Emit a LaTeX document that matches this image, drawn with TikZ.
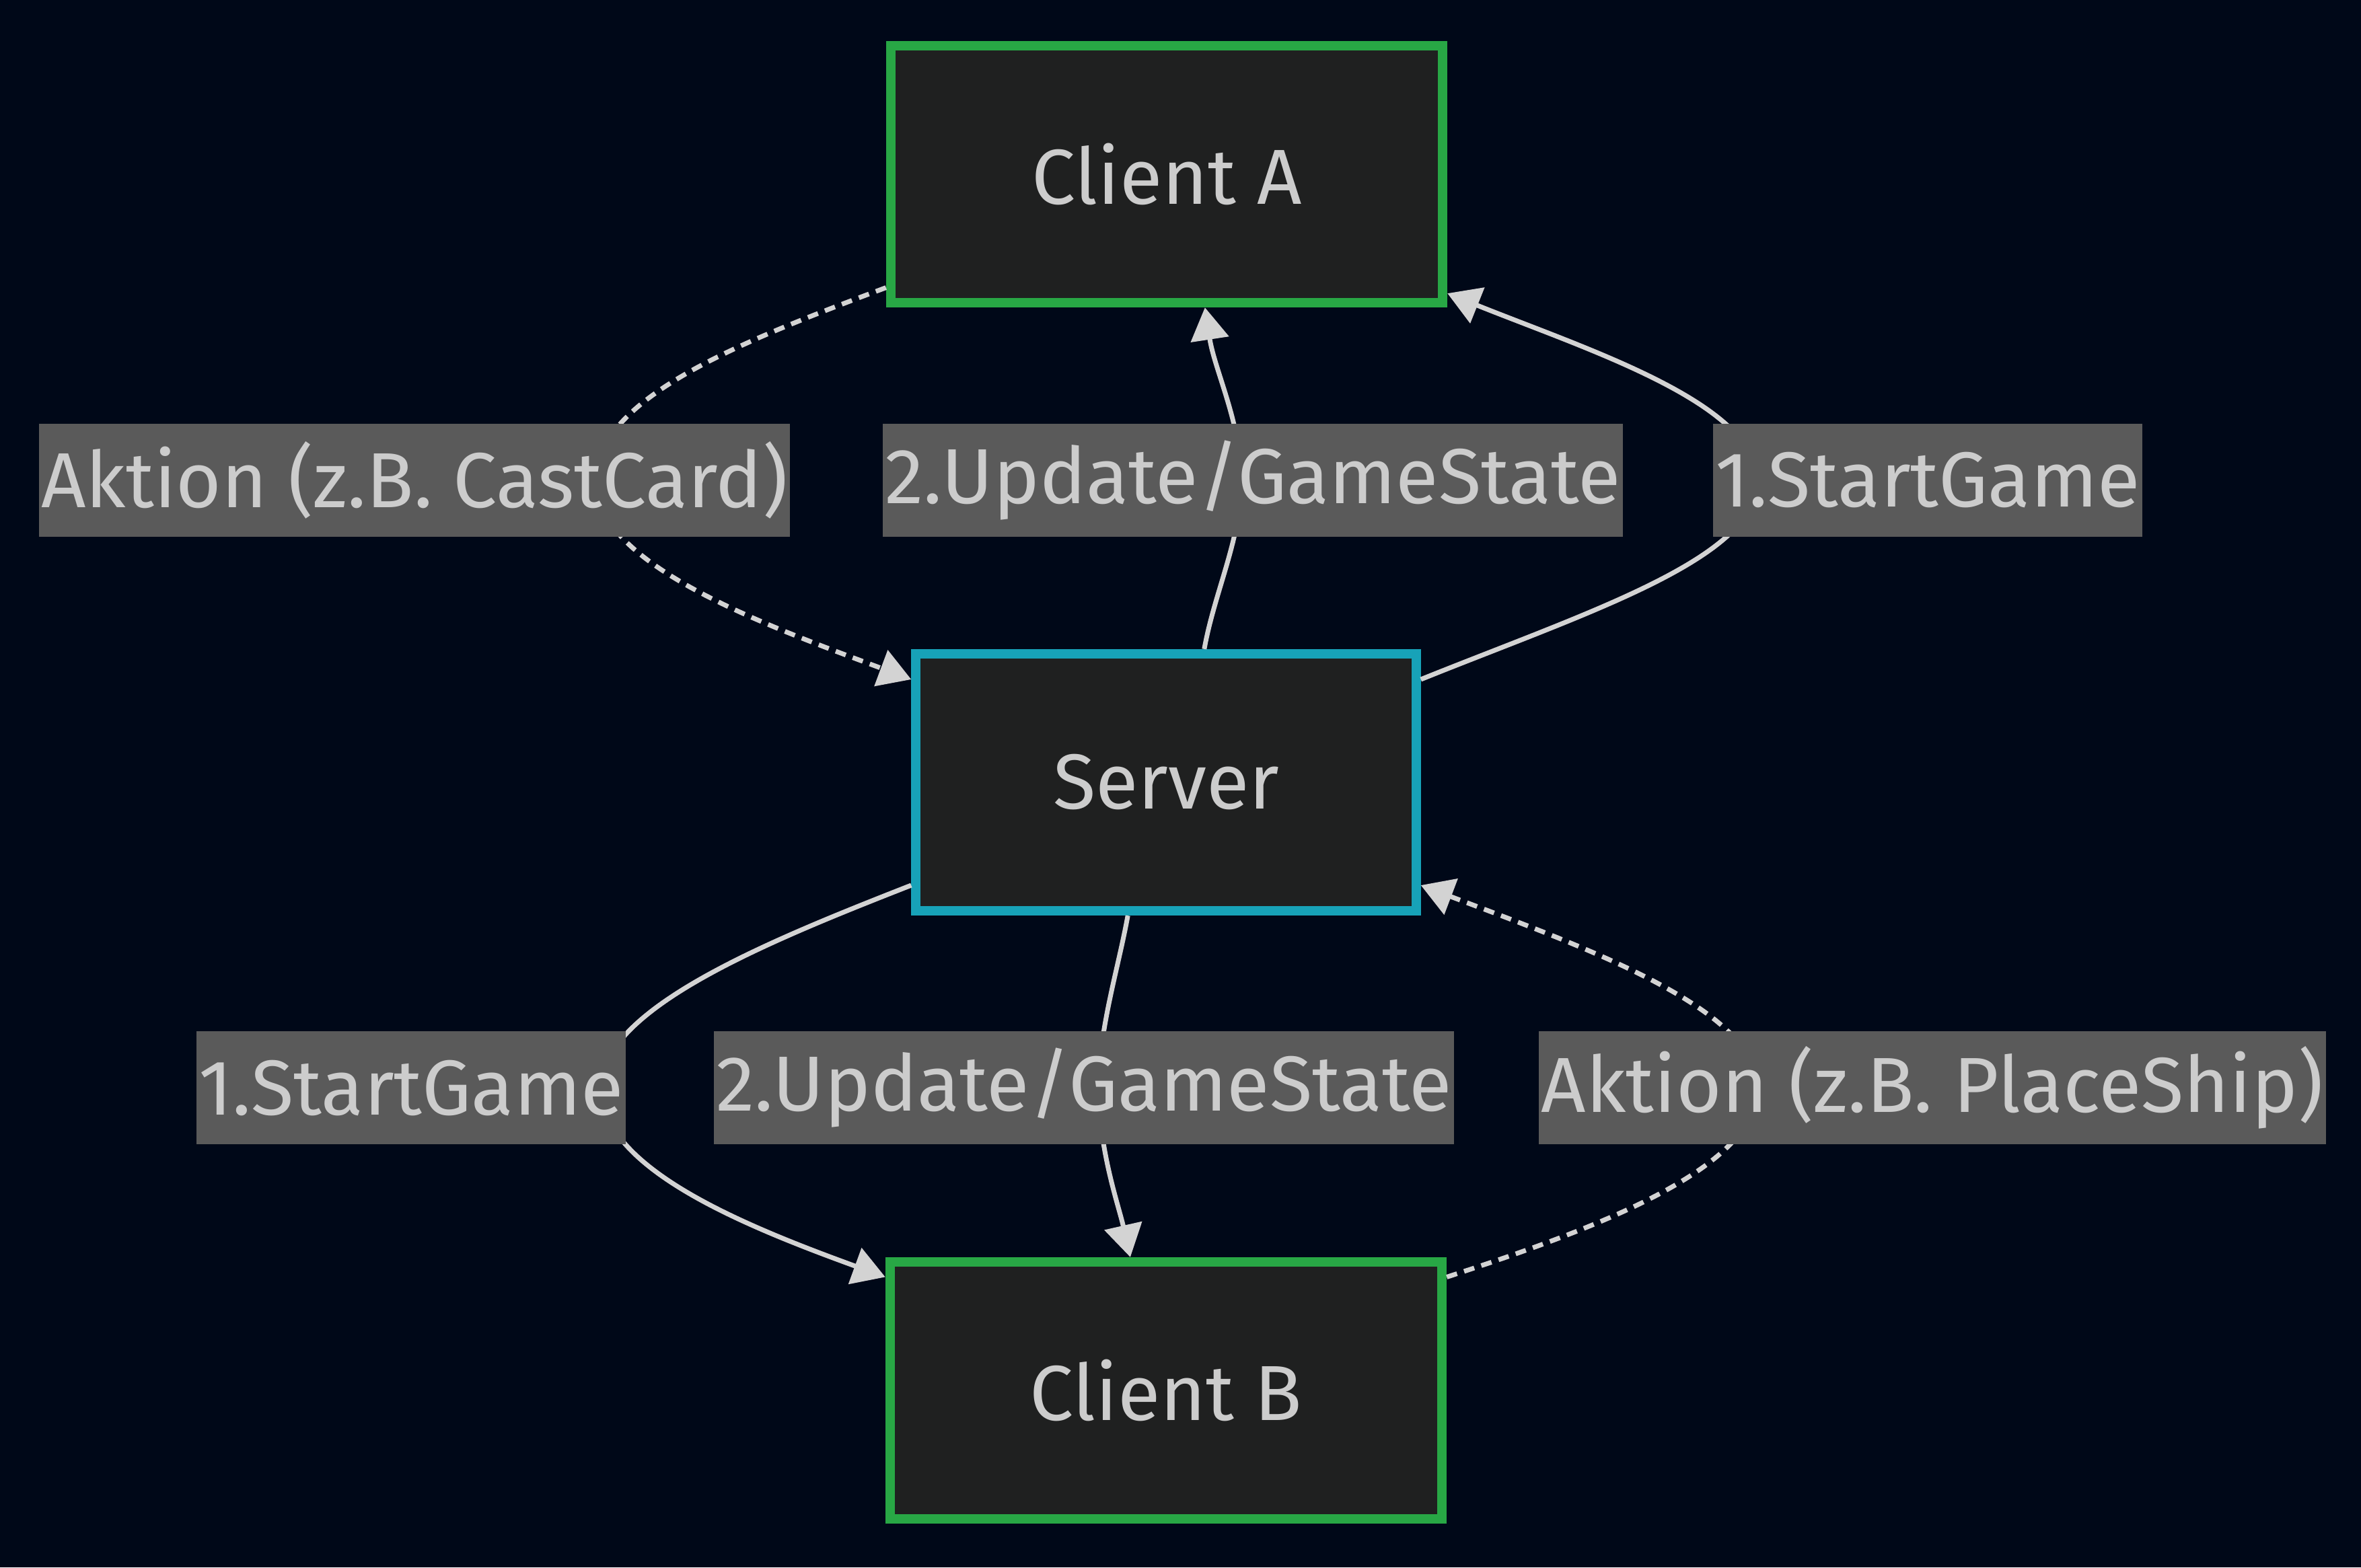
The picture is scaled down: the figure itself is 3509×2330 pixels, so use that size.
\documentclass[tikz,border=0pt]{standalone}
\usepackage{fontspec}
\setmainfont{Fira Sans}
\usetikzlibrary{arrows.meta}
\definecolor{bgnavy}{HTML}{000818}
\definecolor{boxfill}{HTML}{1F2020}
\definecolor{clientgreen}{HTML}{28A745}
\definecolor{serverteal}{HTML}{17A2B8}
\definecolor{labelgrey}{HTML}{5A5A5A}
\definecolor{labeltext}{HTML}{CCCCCC}
\definecolor{edgegrey}{HTML}{D3D3D3}
\begin{document}
\begin{tikzpicture}
[x=0.01cm,y=-0.01cm,
  boxdecorate/.style={shape=rectangle,draw,line width=0.14cm,fill=boxfill,
    text=labeltext,minimum height=3.82cm,font=\fontsize{33}{39}\selectfont},%
  labeldecorate/.style={shape=rectangle,fill=labelgrey,text=labeltext,
    inner xsep=1pt,inner ysep=0pt,minimum height=1.68cm,font=\fontsize{33}{39}\selectfont},%
  linedecorate/.style={draw=edgegrey,line width=0.07cm,
    -{Triangle[length=0.48cm,width=0.56cm]}},%
  dotdecorate/.style={linedecorate,dash pattern=on 0.16cm off 0.11cm}]
\fill[bgnavy] (0,0) rectangle (3509,2330);
\useasboundingbox (0,0) rectangle (3509,2330);
%% nodes or vertices
\foreach \nodename/\x/\y/\w/\colour/\nodetext in {
  clA/1734/259/8.2cm/clientgreen/Client A,
  srv/1733/1163/7.43cm/serverteal/Server,
  clB/1733/2067/8.2cm/clientgreen/Client B}
{
  \node (\nodename) at (\x,\y) [boxdecorate,draw=\colour,minimum width=\w] {\nodetext};
}
%% edges or lines
\draw[dotdecorate] (clA.202) .. controls (1110,505) and (885,590) .. (885,715)
  .. controls (885,840) and (1140,930) .. (srv.158);
\draw[linedecorate] (srv.74) .. controls (1805,880) and (1845,800) .. (1845,715)
  .. controls (1845,630) and (1805,550) .. (clA.286);
\draw[linedecorate] (srv.22) .. controls (2360,910) and (2612,830) .. (2612,715)
  .. controls (2612,600) and (2360,520) .. (clA.337);
\draw[linedecorate] (srv.202) .. controls (1140,1400) and (893,1500) .. (893,1617)
  .. controls (893,1735) and (1100,1820) .. (clB.158);
\draw[linedecorate] (srv.254) .. controls (1662,1440) and (1633,1530) .. (1633,1617)
  .. controls (1633,1710) and (1662,1790) .. (clB.105);
\draw[dotdecorate] (clB.22) .. controls (2360,1830) and (2612,1740) .. (2612,1617)
  .. controls (2612,1500) and (2360,1410) .. (srv.338);
%% edge labels
\foreach \labelname/\x/\y/\labeltext in {
  actA/616/714/{Aktion (z.B. CastCard)},
  updA/1862/714/{2.Update/GameState},
  startA/2865/714/{1.StartGame},
  startB/611/1617/{1.StartGame},
  updB/1611/1617/{2.Update/GameState},
  actB/2872/1617/{Aktion (z.B. PlaceShip)}}
{
  \node (\labelname) at (\x,\y) [labeldecorate] {\labeltext};
}
\end{tikzpicture}
\end{document}
